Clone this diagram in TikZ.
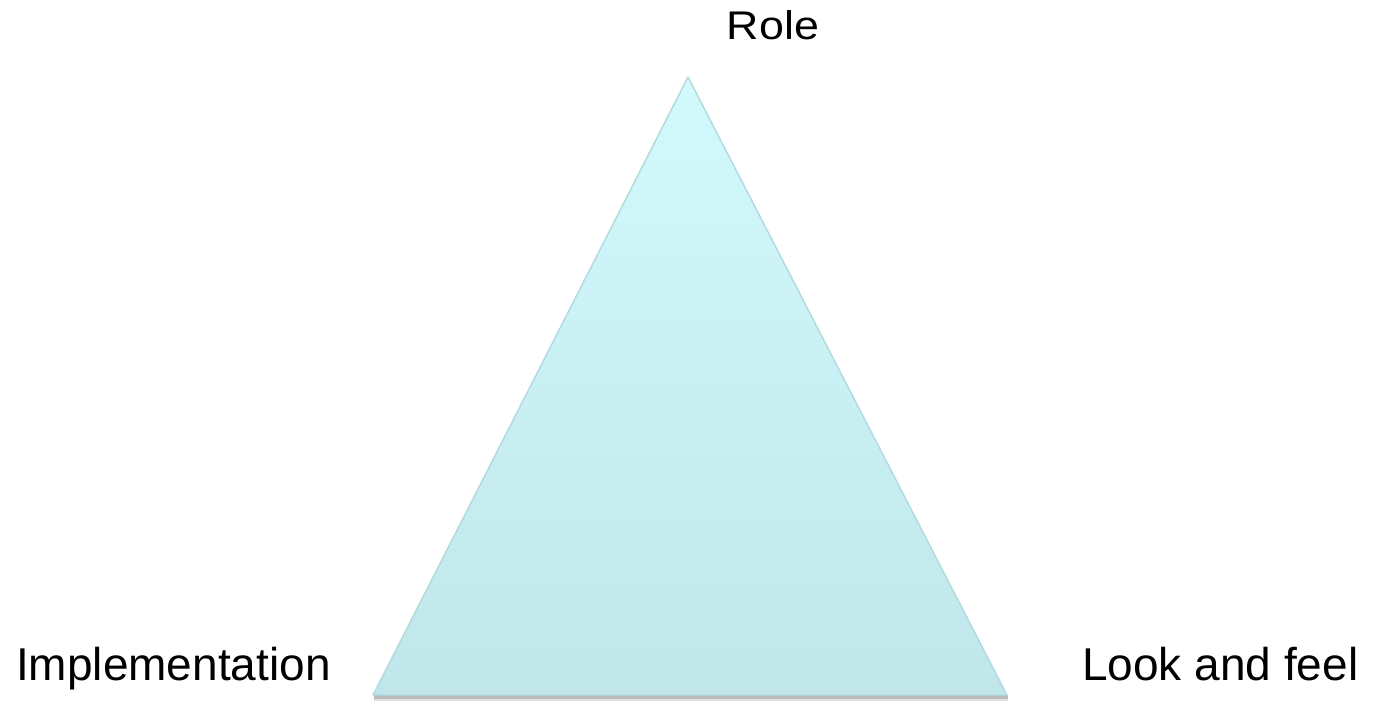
\documentclass[tikz,border=0pt]{standalone}
\usepackage{fontspec}
\setmainfont{Liberation Sans}
\definecolor{tritop}{HTML}{D2F9FC}
\definecolor{tribot}{HTML}{C0E6EA}
\definecolor{triedge}{HTML}{B0DADF}
\begin{document}
\begin{tikzpicture}[x=1pt,y=-1pt,
  lbl/.style={font=\fontsize{46}{50}\selectfont, inner sep=0pt, text=black}]
\useasboundingbox (0,0) rectangle (1376,705);
\coordinate (apex) at (688,77);
\coordinate (bl) at (373,695);
\coordinate (br) at (1007,695);
% shadow
\fill[black!45, opacity=0.6] ([shift={(1,4)}]bl) -- ([shift={(1,4)}]br) -- ([shift={(1,0)}]br) -- ([shift={(1,0)}]bl) -- cycle;
\fill[black!25, opacity=0.5] ([shift={(1,6)}]bl) -- ([shift={(1,6)}]br) -- ([shift={(1,4)}]br) -- ([shift={(1,4)}]bl) -- cycle;
\shade[top color=tritop, bottom color=tribot, draw=triedge, line width=1.4pt, line join=round]
  (apex) -- (br) -- (bl) -- cycle;
\node[lbl, anchor=base, font=\fontsize{40}{44}\selectfont] (role) at (773,39) {\scalebox{1.12}[1]{Role}};
\node[lbl, anchor=base west] (impl) at (16,680) {Implementation};
\node[lbl, anchor=base west] (look) at (1082,680) {Look and feel};
\end{tikzpicture}
\end{document}
